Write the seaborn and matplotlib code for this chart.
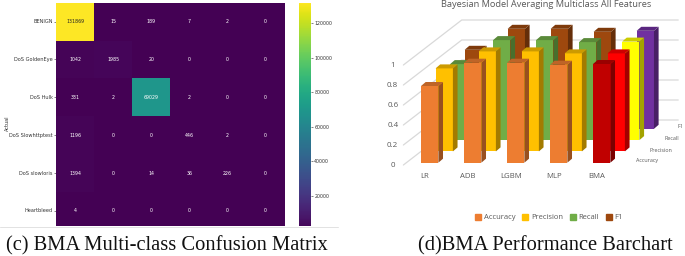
import numpy as np
import pandas as pd
import matplotlib
matplotlib.use('Agg')
import matplotlib.pyplot as plt
import matplotlib.colors as mcolors
from matplotlib.lines import Line2D
from matplotlib.patches import Patch, Polygon
import seaborn as sns

class_names = ['BENIGN', 'DoS GoldenEye', 'DoS Hulk', 'DoS Slowhttptest', 'DoS slowloris', 'Heartbleed']
conf_row_benign = [131869, 15, 189, 7, 2, 0]
conf_row_golden = [1042, 1985, 20, 0, 0, 0]
conf_row_hulk = [331, 2, 69029, 2, 0, 0]
conf_row_slowhttp = [1196, 0, 0, 446, 2, 0]
conf_row_slowloris = [1394, 0, 14, 36, 226, 0]
conf_row_heartbleed = [4, 0, 0, 0, 0, 0]
cbar_ticks = [20000, 40000, 60000, 80000, 100000, 120000]

models = ['LR', 'ADB', 'LGBM', 'MLP', 'BMA']
metrics = ['F1', 'Recall', 'Precision', 'Accuracy']
accuracy = [0.767, 1.0, 1.0, 0.98, 0.987]
precision = [0.83, 1.0, 1.0, 0.98, 0.98]
recall = [0.76, 1.0, 1.0, 0.98, 0.985]
f1 = [0.79, 1.0, 1.0, 0.97, 0.98]
z_ticks = [0, 0.2, 0.4, 0.6, 0.8, 1]

series = {'F1': f1, 'Recall': recall, 'Precision': precision, 'Accuracy': accuracy}
metric_colors = {'Accuracy': '#ED7D31', 'Precision': '#FFC000', 'Recall': '#70AD47', 'F1': '#9E480E'}
bma_colors = {'Accuracy': '#C00000', 'Precision': '#FF0000', 'Recall': '#FFFF00', 'F1': '#7030A0'}
depth = {'Accuracy': 0, 'Precision': 1, 'Recall': 2, 'F1': 3}

sns.set_style('white')
W, H = 685, 256
fig = plt.figure(figsize=(W / 100, H / 100), dpi=100)


def px_axes(x0, y0, x1, y1):
    return fig.add_axes([x0 / W, 1 - y1 / H, (x1 - x0) / W, (y1 - y0) / H])


# left panel, confusion matrix
conf = pd.DataFrame([conf_row_benign, conf_row_golden, conf_row_hulk,
                     conf_row_slowhttp, conf_row_slowloris, conf_row_heartbleed],
                    index=class_names)
ax = px_axes(56, 2.7, 284.7, 226)
cax = px_axes(299, 2.7, 310.7, 226)
sns.heatmap(conf, annot=True, fmt='d', cmap='viridis', vmin=0, ax=ax, cbar_ax=cax,
            annot_kws={'size': 3.4}, xticklabels=False, yticklabels=class_names)
ax.set_ylim(5.9, 0)
ax.set_ylabel('Actual', fontsize=3.6, color='#333333', labelpad=1)
ax.yaxis.set_label_coords(-0.2, 0.46)
ax.tick_params(axis='y', labelsize=3.6, length=1.5, width=0.4, pad=1, labelcolor='#333333', left=True, rotation=0)
cax.set_ylim(2400, conf.values.max())
cax.set_yticks(cbar_ticks)
cax.tick_params(labelsize=3.4, length=1.5, width=0.4, pad=1, labelcolor='#333333', right=True)
for sp in ax.spines.values():
    sp.set_visible(False)

# faint rule left under the panel in the source figure
fig.add_artist(Line2D([0, 338 / W], [1 - 226.6 / H, 1 - 226.6 / H], color='#E2E2E2', lw=0.7))

fig.text(167 / W, 1 - 246 / H, '(c) BMA Multi-class Confusion Matrix', family='Liberation Serif',
         fontsize=14.8, ha='center', va='center', color='#111111')

# right panel, pseudo 3d bars drawn on a flat axes
ax3 = px_axes(345, 0, 685, 256)
step_x, step_y = 0.338, 0.113
side_x, side_y = 0.108, 0.04
bar_w = 0.403
back_x, back_y = 1.357, 0.45
x_pos = np.arange(len(models))

for z in z_ticks:
    gx = [-0.612, -0.612 + back_x, 5.78]
    gy = [z - 0.023, z - 0.023 + back_y, z - 0.023 + back_y]
    ax3.plot(gx, gy, color='#D9D9D9', lw=0.9, zorder=0.5)
    ax3.text(-0.86, z - 0.03, str(z), ha='center', va='center', fontsize=5.8,
             family='Open Sans', color='#595959')


def shade(col, f):
    r, g, b = mcolors.to_rgb(col)
    return (r * f, g * f, b * f)


for name in metrics:
    d = depth[name]
    x_off = d * step_x
    y_off = d * step_y
    zo = 10 - d * 2
    colors = [metric_colors[name]] * 4 + [bma_colors[name]]
    df = pd.DataFrame({'pos': x_pos + x_off, 'value': series[name], 'model': models})
    n_before = len(ax3.patches)
    sns.barplot(data=df, x='pos', y='value', hue='model', palette=dict(zip(models, colors)),
                native_scale=True, dodge=False, width=bar_w, legend=False, ax=ax3,
                linewidth=0, zorder=zo, saturation=1)
    for p in ax3.patches[n_before:]:
        p.set_y(y_off)
    for i, v in enumerate(series[name]):
        x0 = x_pos[i] + x_off - bar_w / 2
        x1 = x0 + bar_w
        top = v + y_off
        ax3.add_patch(Polygon([(x1, y_off), (x1 + side_x, y_off + side_y), (x1 + side_x, top + side_y), (x1, top)],
                              closed=True, fc=shade(colors[i], 0.64), ec='none', zorder=zo))
        ax3.add_patch(Polygon([(x0, top), (x1, top), (x1 + side_x, top + side_y), (x0 + side_x, top + side_y)],
                              closed=True, fc=shade(colors[i], 0.8), ec='none', zorder=zo))

for i, m in enumerate(models):
    ax3.text(x_pos[i] - 0.11, -0.143, m, ha='center', va='center', fontsize=5.6,
             family='Open Sans', color='#595959')

label_x = {'Accuracy': 5.05, 'Precision': 5.37, 'Recall': 5.62, 'F1': 5.84}
label_y = {'Accuracy': 0.02, 'Precision': 0.127, 'Recall': 0.243, 'F1': 0.357}
for name in metrics:
    ax3.text(label_x[name], label_y[name], name, ha='center', va='center', fontsize=3.9,
             family='Open Sans', color='#595959')

ax3.set_xlim((345 - 429.7) / 43, (685 - 429.7) / 43)
ax3.set_ylim(-0.933, 1.627)
ax3.axis('off')

handles = [Patch(color=metric_colors[m], label=m) for m in ['Accuracy', 'Precision', 'Recall', 'F1']]
ax3.legend(handles=handles, ncol=4, loc='center', bbox_to_anchor=((549 - 345) / 340, 1 - 217.5 / 256),
           frameon=False, prop={'family': 'Open Sans', 'size': 5.5}, labelcolor='#595959',
           handlelength=0.8, handleheight=0.8, handletextpad=0.35, columnspacing=0.9)

ax3.text((546 - 345) / 340, 1 - 4.5 / 256, 'Bayesian Model Averaging Multiclass All Features', transform=ax3.transAxes,
         ha='center', va='center', fontsize=6.7, family='Open Sans', color='#595959')
fig.text(545 / W, 1 - 246 / H, '(d)BMA Performance Barchart', family='Liberation Serif',
         fontsize=14.8, ha='center', va='center', color='#111111')

fig.savefig('out.png', dpi=100)
